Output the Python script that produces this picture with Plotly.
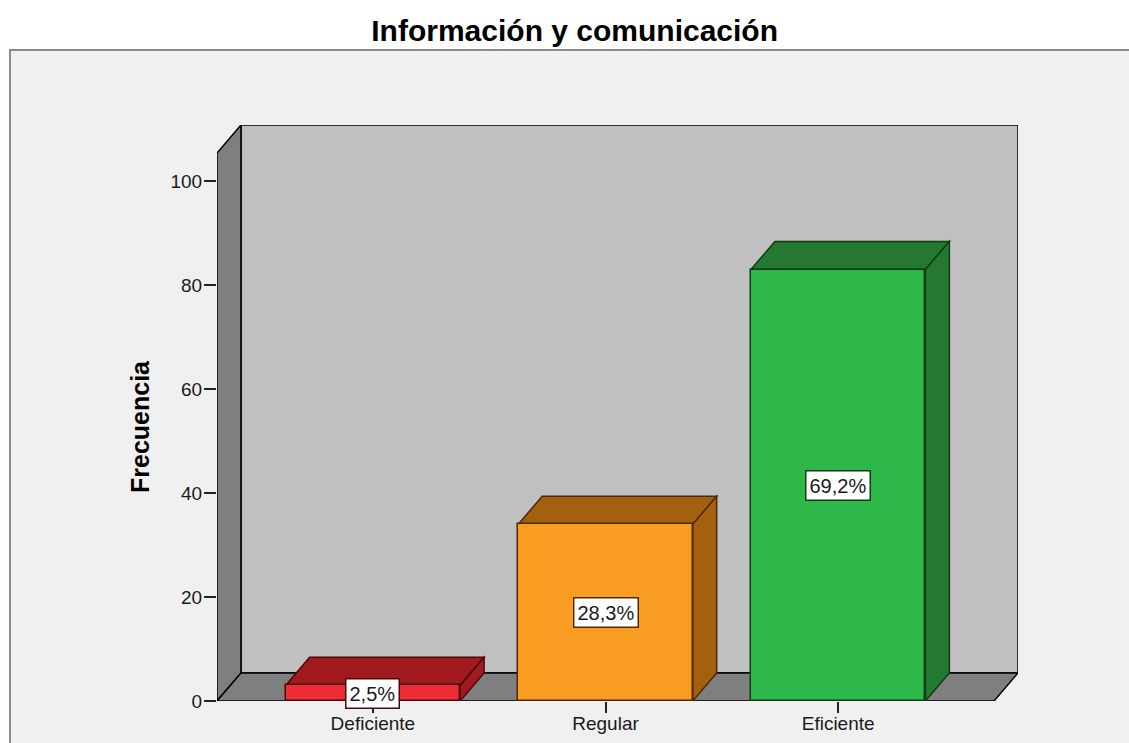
import plotly.graph_objects as go

# Frequency table: Información y comunicación
categories = ["Deficiente", "Regular", "Eficiente"]
frequencies = [3, 34, 83]
y_tick_values = [0, 20, 40, 60, 80, 100]

# Bar styling (front face, shaded top/side faces, outline)
front_colors = ["#ee2d35", "#f89c22", "#2eb84a"]
shade_colors = ["#a11a20", "#a3600f", "#25782f"]
edge_colors = ["#4a0a0c", "#4d2a05", "#0f3d17"]

total = sum(frequencies)
percent_text = [f"{100 * f / total:.1f}".replace(".", ",") + "%" for f in frequencies]

# 3D box geometry in data units
X_LEFT, X_RIGHT = -0.67, 2.67
DX, DY = 0.103, 5.4
Y_TOP = 110.8
BAR_W = 0.75

FONT = "Liberation Sans, Arial, sans-serif"
W, H = 1129, 743
ML, MR, MT, MB = 217, 111, 125, 42

fig = go.Figure()

shapes = []


def poly(points, fill, line="#000000", width=1.5, layer="below"):
    path = "M " + " L ".join(f"{x},{y}" for x, y in points) + " Z"
    return dict(type="path", xref="x", yref="y", path=path, fillcolor=fill,
                line=dict(color=line, width=width), layer=layer)


# Outer chart frame
shapes.append(dict(type="rect", xref="paper", yref="paper",
                   x0=(10 - ML) / (W - ML - MR), x1=1.3,
                   y0=-0.2, y1=(H - MB - 50) / (H - MT - MB),
                   fillcolor="#f0f0f0", line=dict(color="#8c8c8c", width=2),
                   layer="below"))

# Back wall, left wall and floor
shapes.append(poly([(X_LEFT + DX, DY), (X_RIGHT + DX, DY), (X_RIGHT + DX, Y_TOP),
                    (X_LEFT + DX, Y_TOP)], "#c0c0c0"))
shapes.append(poly([(X_LEFT, 0), (X_LEFT, Y_TOP - DY), (X_LEFT + DX, Y_TOP),
                    (X_LEFT + DX, DY)], "#7f7f7f"))
shapes.append(poly([(X_LEFT, 0), (X_RIGHT, 0), (X_RIGHT + DX, DY),
                    (X_LEFT + DX, DY)], "#7f7f7f"))

# Top and side faces of every bar
for i, v in enumerate(frequencies):
    x0, x1 = i - BAR_W / 2, i + BAR_W / 2
    shapes.append(poly([(x0, v), (x0 + DX, v + DY), (x1 + DX, v + DY), (x1, v)],
                       shade_colors[i], edge_colors[i]))
    shapes.append(poly([(x1, 0), (x1, v), (x1 + DX, v + DY), (x1 + DX, DY)],
                       shade_colors[i], edge_colors[i]))

# Front faces
fig.add_trace(go.Bar(
    x=list(range(len(categories))), y=frequencies, width=BAR_W,
    marker=dict(color=front_colors, line=dict(color=edge_colors, width=1.5)),
    hoverinfo="skip", showlegend=False,
))

annotations = []
for i, v in enumerate(frequencies):
    annotations.append(dict(
        x=i, y=v / 2, xref="x", yref="y", text=percent_text[i], showarrow=False,
        font=dict(family=FONT, size=20, color="#1a1a1a"),
        bgcolor="#ffffff", bordercolor=edge_colors[i], borderwidth=1.5, borderpad=3,
    ))

annotations.append(dict(
    xref="paper", yref="paper",
    x=(140 - ML) / (W - ML - MR), y=(H - MB - 427) / (H - MT - MB),
    text="<b>Frecuencia</b>", textangle=-90, showarrow=False,
    font=dict(family=FONT, size=25, color="#000000"),
    xanchor="center", yanchor="middle",
))

fig.update_layout(
    width=W, height=H,
    margin=dict(l=ML, r=MR, t=MT, b=MB, autoexpand=False),
    paper_bgcolor="#ffffff", plot_bgcolor="rgba(0,0,0,0)",
    title=dict(text="<b>Información y comunicación</b>", x=0.509, xanchor="center",
               y=1 - 30 / H, yanchor="middle", yref="container",
               font=dict(family=FONT, size=30, color="#000000")),
    shapes=shapes, annotations=annotations,
    xaxis=dict(range=[X_LEFT, X_RIGHT + DX], tickvals=list(range(len(categories))),
               ticktext=categories, ticks="outside", ticklen=11, tickwidth=1.5,
               tickcolor="#222222", showgrid=False, zeroline=False, showline=False,
               automargin=False, ticklabelstandoff=-6,
               tickfont=dict(family=FONT, size=19, color="#1a1a1a"), fixedrange=True),
    yaxis=dict(range=[0, Y_TOP], tickvals=y_tick_values, ticks="outside", ticklen=12,
               tickwidth=1.5, tickcolor="#222222", showgrid=False, zeroline=False,
               showline=False, automargin=False, ticklabelstandoff=-2,
               tickfont=dict(family=FONT, size=19, color="#1a1a1a"),
               fixedrange=True),
    bargap=0,
)

fig.write_html("out.html", config=dict(displayModeBar=False))
